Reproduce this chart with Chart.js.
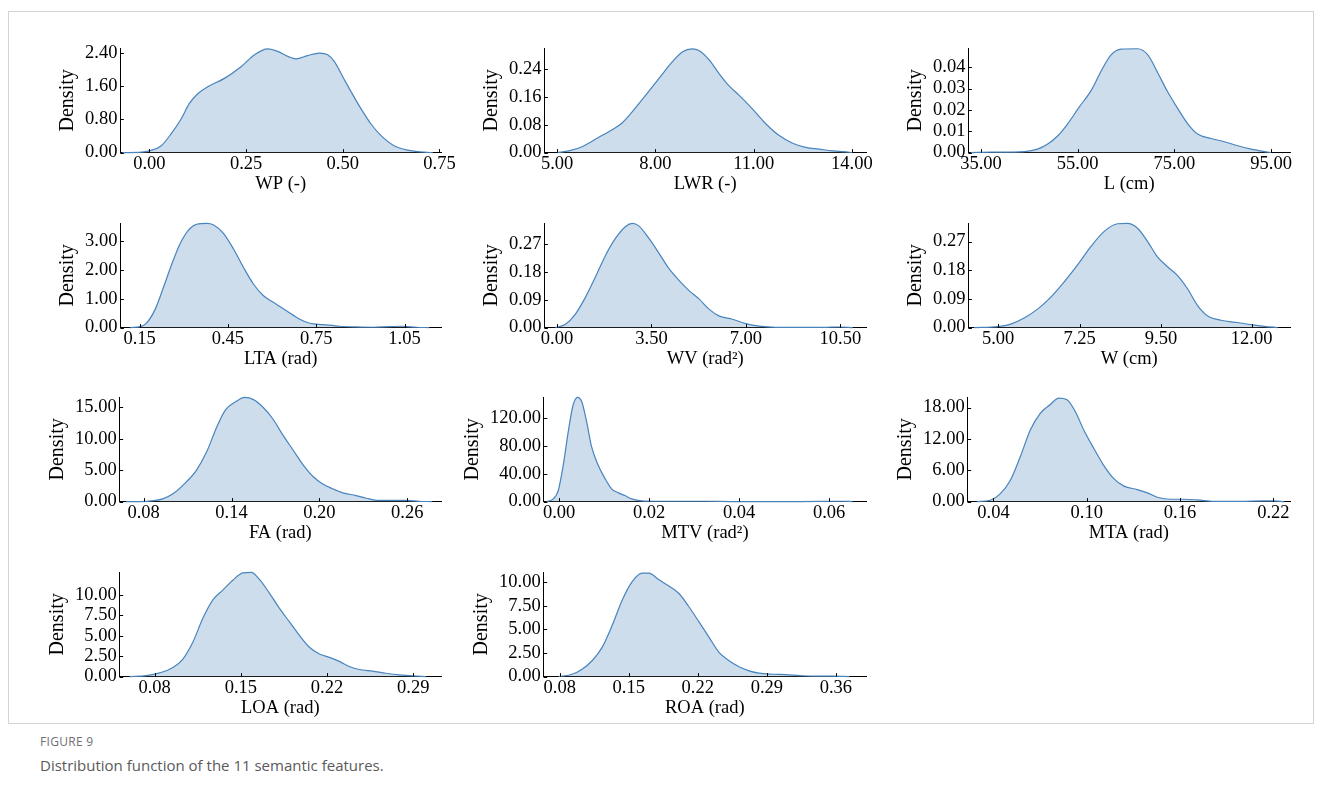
<!DOCTYPE html>
<html>
<head>
<meta charset="utf-8">
<script src="https://cdn.jsdelivr.net/npm/chart.js@4.4.1/dist/chart.umd.min.js"></script>
<style>
  html, body { margin: 0; padding: 0; background: #fff; }
  body { width: 1322px; height: 807px; position: relative; overflow: hidden; }
  #frame { position: absolute; left: 8px; top: 11px; width: 1306px; height: 713px; border: 1px solid #d3d3d3; box-sizing: border-box; }
  .panel { position: absolute; }
  #fig-label { position: absolute; left: 40px; top: 733px; font: 12px 'Open Sans', sans-serif; color: #6f6f6f; letter-spacing: 0.3px; }
  #fig-caption { position: absolute; left: 40px; top: 755px; font: 15px 'Open Sans', sans-serif; color: #5a5a5a; }
</style>
</head>
<body>
<div id="frame"></div>
<div id="fig-label">FIGURE 9</div>
<div id="fig-caption">Distribution function of the 11 semantic features.</div>
<script>
// Kernel density estimates of the leaf features (x = feature value, y = density)
const WP_X = [-0.07, -0.02, 0.0, 0.03, 0.056, 0.082, 0.103, 0.125, 0.151, 0.194, 0.237, 0.272, 0.306, 0.332, 0.358, 0.379, 0.409, 0.44, 0.461, 0.478, 0.5, 0.522, 0.547, 0.573, 0.599, 0.634, 0.668, 0.711, 0.733];
const WP_Y = [0, 0.01, 0.04, 0.16, 0.45, 0.81, 1.18, 1.42, 1.59, 1.79, 2.07, 2.36, 2.50, 2.44, 2.32, 2.26, 2.34, 2.40, 2.36, 2.20, 1.83, 1.46, 1.06, 0.69, 0.41, 0.16, 0.06, 0.01, 0];
const WP_XTICKS = [0, 0.25, 0.5, 0.75];
const WP_YTICKS = [0, 0.8, 1.6, 2.4];

const LWR_X = [5.0, 5.36, 5.76, 6.27, 6.68, 6.99, 7.29, 7.70, 8.11, 8.52, 8.82, 9.13, 9.33, 9.64, 9.94, 10.25, 10.56, 10.96, 11.37, 11.78, 12.19, 12.59, 13.0, 13.41, 13.92, 14.02];
const LWR_Y = [0, 0.005, 0.017, 0.044, 0.066, 0.086, 0.117, 0.165, 0.214, 0.262, 0.290, 0.299, 0.294, 0.267, 0.228, 0.192, 0.165, 0.126, 0.083, 0.049, 0.027, 0.015, 0.010, 0.005, 0.001, 0];
const LWR_XTICKS = [5, 8, 11, 14];
const LWR_YTICKS = [0, 0.08, 0.16, 0.24];

const L_X = [32.9, 37.1, 44.0, 46.7, 48.8, 50.9, 52.9, 55.3, 57.8, 59.8, 61.9, 64.0, 67.4, 69.5, 71.6, 73.6, 75.7, 77.8, 79.8, 82.6, 85.3, 88.1, 90.9, 93.6, 95.0];
const L_Y = [0, 0.0002, 0.0005, 0.0016, 0.004, 0.0079, 0.0134, 0.0213, 0.0292, 0.038, 0.0458, 0.0485, 0.0487, 0.0458, 0.0372, 0.0285, 0.0206, 0.0134, 0.0087, 0.0066, 0.0051, 0.0032, 0.0016, 0.0005, 0];
const L_XTICKS = [35, 55, 75, 95];
const L_YTICKS = [0, 0.01, 0.02, 0.03, 0.04];

const LTA_X = [0.118, 0.152, 0.175, 0.203, 0.231, 0.26, 0.288, 0.316, 0.344, 0.378, 0.4, 0.434, 0.468, 0.502, 0.536, 0.57, 0.604, 0.649, 0.694, 0.728, 0.773, 0.83, 0.886, 0.943, 0.999, 1.044, 1.089, 1.134];
const LTA_Y = [0, 0.035, 0.175, 0.64, 1.4, 2.22, 2.92, 3.38, 3.58, 3.61, 3.56, 3.27, 2.74, 2.1, 1.52, 1.11, 0.875, 0.58, 0.29, 0.15, 0.105, 0.047, 0.023, 0.012, 0.035, 0.047, 0.012, 0];
const LTA_XTICKS = [0.15, 0.45, 0.75, 1.05];
const LTA_YTICKS = [0, 1, 2, 3];

const WV_X = [-0.06, 0.31, 0.68, 1.05, 1.42, 1.80, 2.17, 2.54, 2.79, 3.03, 3.40, 3.78, 4.15, 4.52, 4.89, 5.26, 5.63, 6.0, 6.5, 7.0, 7.49, 8.11, 8.98, 9.97, 10.46, 10.96];
const WV_Y = [0, 0.011, 0.044, 0.098, 0.164, 0.235, 0.29, 0.328, 0.338, 0.33, 0.29, 0.241, 0.191, 0.153, 0.12, 0.093, 0.06, 0.038, 0.027, 0.013, 0.005, 0.001, 0.0005, 0.001, 0.002, 0];
const WV_XTICKS = [0, 3.5, 7, 10.5];
const WV_YTICKS = [0, 0.09, 0.18, 0.27];

const W_X = [4.34, 4.98, 5.35, 5.72, 6.09, 6.45, 6.82, 7.19, 7.56, 7.93, 8.30, 8.57, 8.85, 9.13, 9.40, 9.68, 9.95, 10.23, 10.51, 10.78, 11.15, 11.61, 11.98, 12.35, 12.72];
const W_Y = [0, 0.003, 0.011, 0.03, 0.058, 0.095, 0.143, 0.196, 0.254, 0.302, 0.326, 0.327, 0.312, 0.27, 0.222, 0.191, 0.164, 0.122, 0.069, 0.037, 0.023, 0.016, 0.0095, 0.004, 0];
const W_XTICKS = [5, 7.25, 9.5, 12];
const W_YTICKS = [0, 0.09, 0.18, 0.27];

const FA_X = [0.068, 0.082, 0.093, 0.100, 0.109, 0.116, 0.123, 0.130, 0.136, 0.143, 0.149, 0.155, 0.161, 0.168, 0.175, 0.182, 0.189, 0.196, 0.202, 0.209, 0.216, 0.225, 0.232, 0.239, 0.248, 0.259, 0.268, 0.277];
const FA_Y = [0, 0.05, 0.43, 1.23, 3.1, 4.96, 7.9, 11.9, 14.6, 15.9, 16.55, 16.2, 15.1, 13.2, 10.6, 8.2, 5.8, 3.9, 2.83, 2.03, 1.39, 0.96, 0.53, 0.21, 0.21, 0.21, 0.05, 0];
const FA_XTICKS = [0.08, 0.14, 0.20, 0.26];
const FA_YTICKS = [0, 5, 10, 15];

const MTV_X = [-0.0028, -0.0013, -0.0002, 0.0009, 0.002, 0.0031, 0.0041, 0.005, 0.0061, 0.0072, 0.0087, 0.0102, 0.0117, 0.0132, 0.0146, 0.0161, 0.0184, 0.0213, 0.0265, 0.0325, 0.0384, 0.0533, 0.063, 0.0652];
const MTV_Y = [0, 3.9, 16, 52, 100, 139, 150, 144, 115, 79, 52, 33, 18, 12.6, 8.7, 3.9, 1, 0.5, 0.5, 0.5, 0.1, 0, 0.5, 0];
const MTV_XTICKS = [0, 0.02, 0.04, 0.06];
const MTV_YTICKS = [0, 40, 80, 120];

const MTA_X = [0.0293, 0.0379, 0.0443, 0.0508, 0.0572, 0.0637, 0.0701, 0.0766, 0.082, 0.0873, 0.0927, 0.0981, 0.1045, 0.111, 0.1174, 0.1239, 0.1325, 0.139, 0.1454, 0.154, 0.1626, 0.1712, 0.1819, 0.1991, 0.2142, 0.22, 0.227];
const MTA_Y = [0, 0.26, 1.48, 4.05, 8.55, 13.7, 16.9, 18.6, 19.8, 19.5, 17.2, 13.7, 10.2, 6.9, 4.4, 2.96, 2.3, 1.67, 0.84, 0.45, 0.45, 0.32, 0.06, 0.06, 0.13, 0.13, 0];
const MTA_XTICKS = [0.04, 0.10, 0.16, 0.22];
const MTA_YTICKS = [0, 6, 12, 18];

const LOA_X = [0.0597, 0.0732, 0.084, 0.0949, 0.103, 0.111, 0.119, 0.1273, 0.1354, 0.1435, 0.1516, 0.1584, 0.1651, 0.1733, 0.1814, 0.1895, 0.1976, 0.2057, 0.2138, 0.2219, 0.23, 0.2381, 0.2462, 0.257, 0.2679, 0.2787, 0.2895, 0.3003];
const LOA_Y = [0, 0.12, 0.45, 1.12, 2.15, 4.2, 7.1, 9.4, 10.6, 11.8, 12.7, 12.77, 11.9, 10.2, 8.35, 6.7, 5.04, 3.6, 2.77, 2.36, 1.86, 1.24, 0.87, 0.66, 0.41, 0.21, 0.08, 0];
const LOA_XTICKS = [0.08, 0.15, 0.22, 0.29];
const LOA_YTICKS = [0, 2.5, 5, 7.5, 10];

const ROA_X = [0.079, 0.0925, 0.1027, 0.1128, 0.123, 0.1332, 0.1433, 0.1535, 0.1636, 0.1704, 0.1806, 0.1907, 0.2009, 0.211, 0.2212, 0.2313, 0.2415, 0.2517, 0.2618, 0.272, 0.2821, 0.2957, 0.3092, 0.3228, 0.3363, 0.3567, 0.3736];
const ROA_Y = [0, 0.25, 0.79, 1.68, 3.1, 5.43, 8.1, 10.07, 10.96, 10.96, 10.25, 9.6, 8.8, 7.4, 5.8, 4.18, 2.57, 1.68, 1.04, 0.61, 0.36, 0.25, 0.21, 0.11, 0.04, 0.04, 0];
const ROA_XTICKS = [0.08, 0.15, 0.22, 0.29, 0.36];
const ROA_YTICKS = [0, 2.5, 5, 7.5, 10];

// Styling
const LINE = 'rgb(72, 132, 190)';
const FILL = 'rgb(205, 221, 235)';
const SERIF = "'Liberation Serif', 'Times New Roman', serif";
const TICK_FONT = { family: SERIF, size: 18.5 };
const XTITLE_FONT = { family: SERIF, size: 18.5 };
const YTITLE_FONT = { family: SERIF, size: 20 };

// Grid geometry: left spine x per column, top of plot area per row
const COL_X = [120, 544, 968];
const COL_W = [321, 322, 322];
const ROW_TOP = [48, 223, 397, 572];
const PLOT_H = 104;

const panels = [
  { xs: WP_X,  ys: WP_Y,  xTicks: WP_XTICKS,  yTicks: WP_YTICKS,  label: 'WP (-)',       xMin: -0.075, xMax: 0.754, yMax: 2.52,  row: 0, col: 0 },
  { xs: LWR_X, ys: LWR_Y, xTicks: LWR_XTICKS, yTicks: LWR_YTICKS, label: 'LWR (-)',      xMin: 4.61,   xMax: 14.43, yMax: 0.301, row: 0, col: 1 },
  { xs: L_X,   ys: L_Y,   xTicks: L_XTICKS,   yTicks: L_YTICKS,   label: 'L (cm)',       xMin: 32.4,   xMax: 98.9,  yMax: 0.049, row: 0, col: 2 },
  { xs: LTA_X, ys: LTA_Y, xTicks: LTA_XTICKS, yTicks: LTA_YTICKS, label: 'LTA (rad)',    xMin: 0.0845, xMax: 1.174, yMax: 3.62,  row: 1, col: 0 },
  { xs: WV_X,  ys: WV_Y,  xTicks: WV_XTICKS,  yTicks: WV_YTICKS,  label: 'WV (rad²)',    xMin: -0.47,  xMax: 11.45, yMax: 0.339, row: 1, col: 1 },
  { xs: W_X,   ys: W_Y,   xTicks: W_XTICKS,   yTicks: W_YTICKS,   label: 'W (cm)',       xMin: 4.18,   xMax: 13.06, yMax: 0.328, row: 1, col: 2 },
  { xs: FA_X,  ys: FA_Y,  xTicks: FA_XTICKS,  yTicks: FA_YTICKS,  label: 'FA (rad)',     xMin: 0.0636, xMax: 0.283, yMax: 16.6,  row: 2, col: 0 },
  { xs: MTV_X, ys: MTV_Y, xTicks: MTV_XTICKS, yTicks: MTV_YTICKS, label: 'MTV (rad²)',   xMin: -0.0034,xMax: 0.0682,yMax: 150.4, row: 2, col: 1 },
  { xs: MTA_X, ys: MTA_Y, xTicks: MTA_XTICKS, yTicks: MTA_YTICKS, label: 'MTA (rad)',    xMin: 0.0234, xMax: 0.2307,yMax: 20.0,  row: 2, col: 2 },
  { xs: LOA_X, ys: LOA_Y, xTicks: LOA_XTICKS, yTicks: LOA_YTICKS, label: 'LOA (rad)',    xMin: 0.0516, xMax: 0.3125,yMax: 12.8,  row: 3, col: 0 },
  { xs: ROA_X, ys: ROA_Y, xTicks: ROA_XTICKS, yTicks: ROA_YTICKS, label: 'ROA (rad)',    xMin: 0.0637, xMax: 0.3905,yMax: 11.07, row: 3, col: 1 }
];

// Short tick marks pointing into the plot area
const inwardTicks = {
  id: 'inwardTicks',
  afterDraw(chart) {
    const { ctx, chartArea: a, scales: { x, y } } = chart;
    ctx.save();
    ctx.strokeStyle = '#000';
    ctx.lineWidth = 1;
    ctx.beginPath();
    x.ticks.forEach(t => {
      const px = Math.round(x.getPixelForValue(t.value)) + 0.5;
      ctx.moveTo(px, a.bottom);
      ctx.lineTo(px, a.bottom - 3.5);
    });
    y.ticks.forEach(t => {
      const py = Math.round(y.getPixelForValue(t.value)) + 0.5;
      ctx.moveTo(a.left, py);
      ctx.lineTo(a.left + 3.5, py);
    });
    ctx.stroke();
    ctx.restore();
  }
};

function makeConfig(p) {
  return {
    type: 'line',
    data: {
      datasets: [{
        data: p.xs.map((v, i) => ({ x: v, y: p.ys[i] })),
        borderColor: LINE,
        backgroundColor: FILL,
        borderWidth: 1.2,
        fill: 'origin',
        pointRadius: 0,
        cubicInterpolationMode: 'monotone',
        clip: false
      }]
    },
    options: {
      responsive: false,
      animation: false,
      devicePixelRatio: 1,
      layout: { padding: { left: 2, right: 26, top: 6, bottom: 2 } },
      plugins: { legend: { display: false }, tooltip: { enabled: false } },
      scales: {
        x: {
          type: 'linear',
          min: p.xMin,
          max: p.xMax,
          afterBuildTicks: s => { s.ticks = p.xTicks.map(v => ({ value: v })); },
          ticks: { autoSkip: false, maxRotation: 0, padding: 0, color: '#000', font: TICK_FONT, callback: v => Number(v).toFixed(2) },
          grid: { display: false, drawTicks: false },
          border: { display: true, color: '#000', width: 1 },
          title: { display: true, text: p.label, color: '#000', font: XTITLE_FONT, padding: { top: -2, bottom: 0 } }
        },
        y: {
          type: 'linear',
          min: 0,
          max: p.yMax,
          afterBuildTicks: s => { s.ticks = p.yTicks.map(v => ({ value: v })); },
          ticks: { autoSkip: false, padding: 3, color: '#000', font: TICK_FONT, callback: v => Number(v).toFixed(2) },
          grid: { display: false, drawTicks: false },
          border: { display: true, color: '#000', width: 1 },
          title: { display: true, text: 'Density', color: '#000', font: YTITLE_FONT, padding: { top: 0, bottom: 2 } }
        }
      }
    },
    plugins: [inwardTicks]
  };
}

function mount(p) {
  const wrap = document.createElement('div');
  wrap.className = 'panel';
  document.body.appendChild(wrap);
  const plotW = COL_W[p.col];
  const make = (w, h) => {
    wrap.innerHTML = '';
    const c = document.createElement('canvas');
    c.width = w; c.height = h;
    c.style.width = w + 'px'; c.style.height = h + 'px';
    wrap.appendChild(c);
    return new Chart(c, makeConfig(p));
  };
  const w0 = plotW + 160, h0 = PLOT_H + 90;
  let chart = make(w0, h0);
  let a = chart.chartArea;
  const w1 = Math.round(w0 + plotW - (a.right - a.left));
  const h1 = Math.round(h0 + PLOT_H - (a.bottom - a.top));
  chart.destroy();
  chart = make(w1, h1);
  a = chart.chartArea;
  wrap.style.left = (COL_X[p.col] - a.left) + 'px';
  wrap.style.top = (ROW_TOP[p.row] - a.top) + 'px';
}

panels.forEach(mount);
</script>
</body>
</html>
